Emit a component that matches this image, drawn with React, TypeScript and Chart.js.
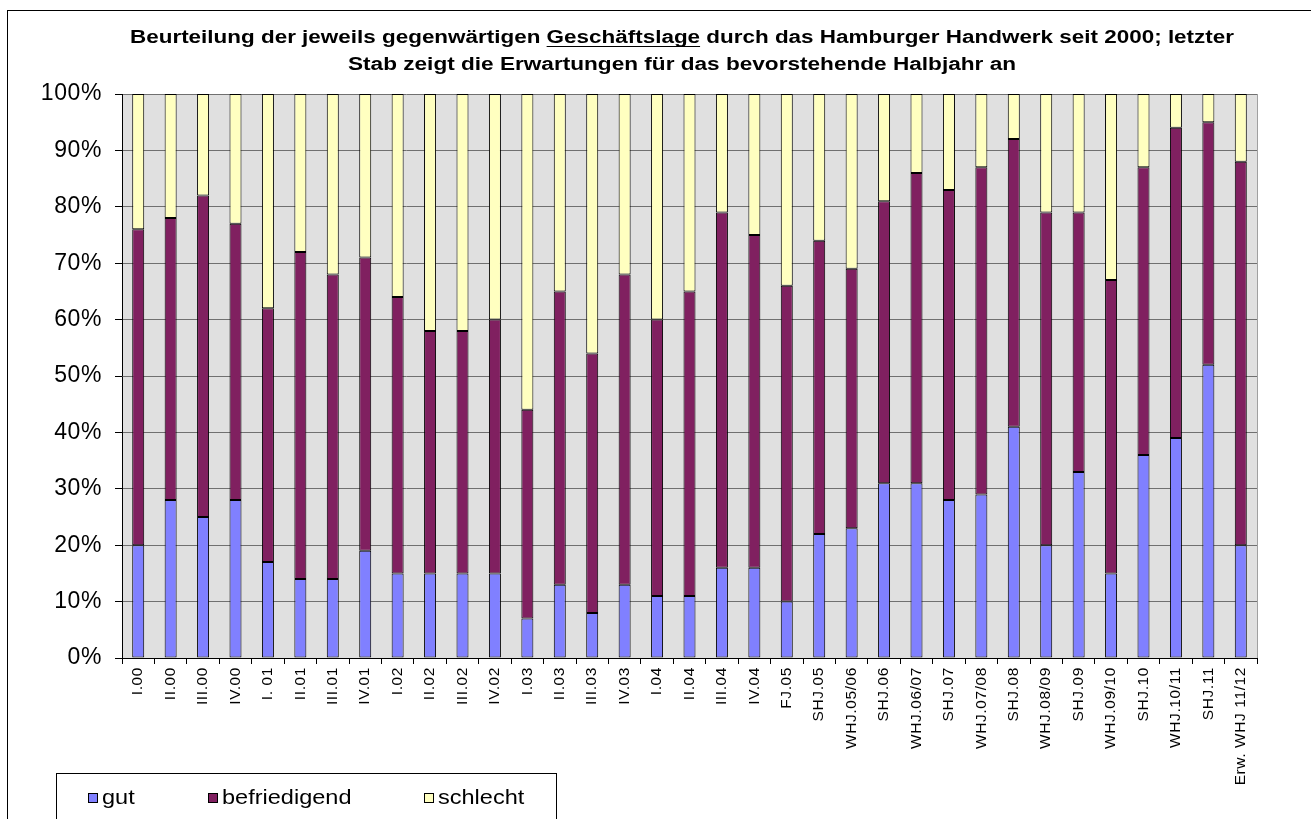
import React, { useEffect, useRef } from "react";
import { Chart, registerables } from "chart.js";

Chart.register(...registerables);

const categories = [
  "I.00", "II.00", "III.00", "IV.00", "I. 01", "II.01", "III.01", "IV.01",
  "I.02", "II.02", "III.02", "IV.02", "I.03", "II.03", "III.03", "IV.03",
  "I.04", "II.04", "III.04", "IV.04", "FJ.05", "SHJ.05", "WHJ.05/06", "SHJ.06",
  "WHJ.06/07", "SHJ.07", "WHJ.07/08", "SHJ.08", "WHJ.08/09", "SHJ.09", "WHJ.09/10",
  "SHJ.10", "WHJ.10/11", "SHJ.11", "Erw. WHJ 11/12",
];

const gut = [20, 28, 25, 28, 17, 14, 14, 19, 15, 15, 15, 15, 7, 13, 8, 13, 11, 11, 16, 16, 10, 22, 23, 31, 31, 28, 29, 41, 20, 33, 15, 36, 39, 52, 20];
const befriedigend = [56, 50, 57, 49, 45, 58, 54, 52, 49, 43, 43, 45, 37, 52, 46, 55, 49, 54, 63, 59, 56, 52, 46, 50, 55, 55, 58, 51, 59, 46, 52, 51, 55, 43, 68];
const schlecht = [24, 22, 18, 23, 38, 28, 32, 29, 36, 42, 42, 40, 56, 35, 46, 32, 40, 35, 21, 25, 34, 26, 31, 19, 14, 17, 13, 8, 21, 21, 33, 13, 6, 5, 12];

const seriesNames = ["gut", "befriedigend", "schlecht"];
const seriesColors = ["#8080FF", "#802060", "#FFFFC0"];

const titlePartA = "Beurteilung der jeweils gegenwärtigen ";
const titlePartB = "Geschäftslage";
const titlePartC = " durch das Hamburger Handwerk seit 2000; letzter";
const titleLine2 = "Stab zeigt die Erwartungen für das bevorstehende Halbjahr an";

const FONT = "'Liberation Sans', Arial, sans-serif";

const W = 1311;
const H = 819;

const bgPlugin = {
  id: "bgPlugin",
  beforeDraw(chart: any) {
    const { ctx, chartArea } = chart;
    ctx.save();
    ctx.fillStyle = "#ffffff";
    ctx.fillRect(0, 0, chart.width, chart.height);
    ctx.strokeStyle = "#000";
    ctx.lineWidth = 1;
    ctx.strokeRect(7.5, 10.5, chart.width + 20, chart.height + 20);
    ctx.fillStyle = "#E0E0E0";
    ctx.fillRect(chartArea.left, chartArea.top, chartArea.right - chartArea.left, chartArea.bottom - chartArea.top);
    ctx.restore();
    ctx.letterSpacing = "0.6px";
  },
  afterDatasetsDraw(chart: any) {
    const { ctx, chartArea } = chart;
    ctx.save();
    ctx.strokeStyle = "#A0A0A0";
    ctx.lineWidth = 1;
    ctx.beginPath();
    ctx.moveTo(Math.round(chartArea.right) + 0.5, chartArea.top);
    ctx.lineTo(Math.round(chartArea.right) + 0.5, chartArea.bottom);
    ctx.stroke();
    ctx.restore();
  },
};

const titlePlugin = {
  id: "titlePlugin",
  afterDraw(chart: any) {
    const { ctx } = chart;
    ctx.save();
    ctx.letterSpacing = "0px";
    ctx.fillStyle = "#000";
    ctx.strokeStyle = "#000";
    ctx.font = "bold 18px " + FONT;
    ctx.textBaseline = "alphabetic";
    ctx.textAlign = "left";
    const cx = 682;
    const line1 = titlePartA + titlePartB + titlePartC;
    const w1 = ctx.measureText(line1).width;
    const target1 = 1104;
    const f1 = target1 / w1;
    const y1 = 43;
    ctx.save();
    ctx.translate(cx - target1 / 2, y1);
    ctx.scale(f1, 1);
    ctx.fillText(line1, 0, 0);
    const wa = ctx.measureText(titlePartA).width;
    const wb = ctx.measureText(titlePartB).width;
    ctx.restore();
    const ux = cx - target1 / 2 + wa * f1;
    ctx.lineWidth = 1.2;
    ctx.beginPath();
    ctx.moveTo(ux, y1 + 3.5);
    ctx.lineTo(ux + wb * f1, y1 + 3.5);
    ctx.stroke();
    const w2 = ctx.measureText(titleLine2).width;
    const target2 = 668;
    const f2 = target2 / w2;
    ctx.save();
    ctx.translate(cx - target2 / 2, 70);
    ctx.scale(f2, 1);
    ctx.fillText(titleLine2, 0, 0);
    ctx.restore();
    ctx.restore();
  },
};

const legendPlugin = {
  id: "legendPlugin",
  afterDraw(chart: any) {
    const { ctx } = chart;
    ctx.save();
    ctx.letterSpacing = "0px";
    ctx.strokeStyle = "#000";
    ctx.lineWidth = 1;
    ctx.strokeRect(56.5, 773.5, 500, 60);
    ctx.font = "21px " + FONT;
    ctx.textBaseline = "middle";
    ctx.textAlign = "left";
    const xs = [88, 208, 424];
    const yMid = 798;
    chart.data.datasets.forEach((ds: any, i: number) => {
      const sx = xs[i];
      ctx.fillStyle = ds.backgroundColor;
      ctx.fillRect(sx, yMid - 5, 10, 10);
      ctx.strokeStyle = "#000";
      ctx.strokeRect(sx + 0.5, yMid - 4.5, 9, 9);
      ctx.fillStyle = "#000";
      ctx.save();
      ctx.translate(sx + 14, yMid);
      ctx.scale(1.12, 1);
      ctx.fillText(ds.label, 0, 0);
      ctx.restore();
    });
    ctx.restore();
  },
};

export default function App() {
  const ref = useRef<HTMLCanvasElement | null>(null);
  useEffect(() => {
    if (!ref.current) return;
    const chart = new Chart(ref.current, {
      type: "bar",
      data: {
        labels: categories,
        datasets: [gut, befriedigend, schlecht].map((d, i) => ({
          label: seriesNames[i],
          data: d,
          backgroundColor: seriesColors[i],
          borderColor: "#000000",
          borderWidth: 1,
          borderSkipped: false,
          barPercentage: 0.37,
          categoryPercentage: 1,
        })),
      },
      options: {
        responsive: false,
        animation: false,
        layout: { padding: { top: 94, right: 54, left: 0, bottom: 0 } },
        plugins: {
          legend: { display: false },
          title: { display: false },
          tooltip: { enabled: false },
        },
        scales: {
          x: {
            stacked: true,
            grid: {
              offset: true,
              drawOnChartArea: false,
              tickLength: 6,
              tickColor: "#000",
              color: "#000",
            },
            border: { color: "#000", width: 1 },
            ticks: {
              color: "#000",
              font: { family: FONT, size: 15.5 },
              maxRotation: 90,
              minRotation: 90,
              autoSkip: false,
              padding: 3,
            },
            afterFit(scale: any) {
              scale.height = H - 658;
            },
          },
          y: {
            stacked: true,
            min: 0,
            max: 100,
            grid: {
              color: "#707070",
              tickColor: "#000",
              tickLength: 7,
            },
            border: { color: "#000", width: 1 },
            ticks: {
              stepSize: 10,
              color: "#000",
              font: { family: FONT, size: 23 },
              padding: 13,
              callback: (v: any) => v + "%",
            },
            afterFit(scale: any) {
              scale.width = 122;
            },
          },
        },
      },
      plugins: [bgPlugin, titlePlugin, legendPlugin],
    });
    return () => chart.destroy();
  }, []);
  return (
    <div style={{ position: "absolute", left: 0, top: 0, width: W, height: H, background: "#fff" }}>
      <canvas ref={ref} width={W} height={H} style={{ display: "block", width: W, height: H }} />
    </div>
  );
}
